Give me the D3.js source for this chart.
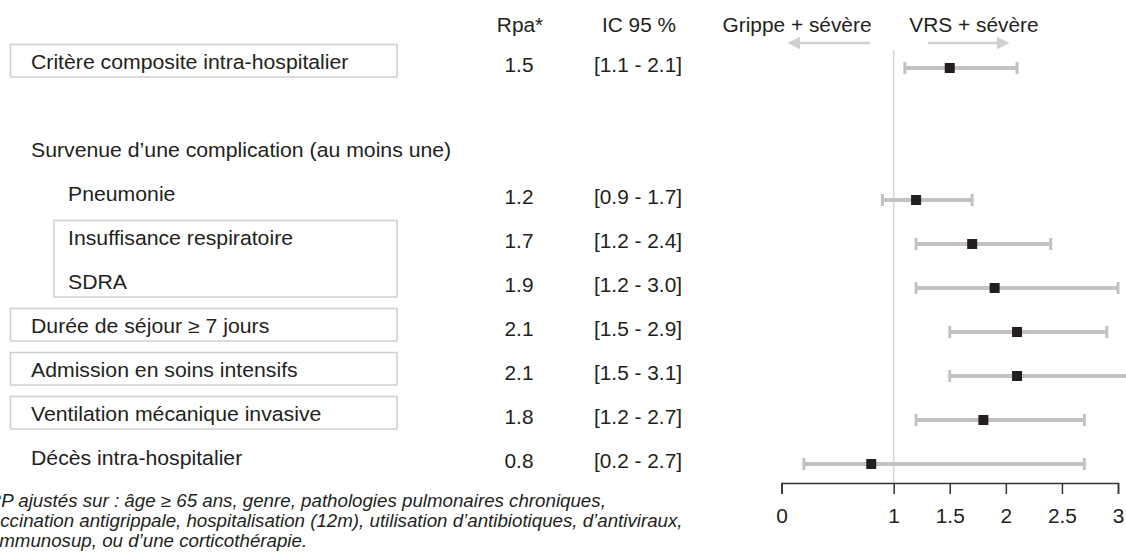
<!DOCTYPE html>
<html lang="fr">
<head>
<meta charset="utf-8">
<script src="https://cdn.jsdelivr.net/npm/d3@7"></script>
<style>
  html, body { margin: 0; padding: 0; background: #fff; overflow: hidden; }
  svg { display: block; font-family: "Liberation Sans", Arial, Helvetica, sans-serif; }
</style>
</head>
<body>
<svg id="chart" width="1126" height="554"></svg>
<script>
// Outcomes (rows), adjusted ratios and 95 % confidence limits
const categories = [
  "Critère composite intra-hospitalier",
  "",
  "Survenue d’une complication (au moins une)",
  "Pneumonie",
  "Insuffisance respiratoire",
  "SDRA",
  "Durée de séjour ≥ 7 jours",
  "Admission en soins intensifs",
  "Ventilation mécanique invasive",
  "Décès intra-hospitalier"
];
const rpa    = [1.5, null, null, 1.2, 1.7, 1.9, 2.1, 2.1, 1.8, 0.8];
const ciLow  = [1.1, null, null, 0.9, 1.2, 1.2, 1.5, 1.5, 1.2, 0.2];
const ciHigh = [2.1, null, null, 1.7, 2.4, 3.0, 2.9, 3.1, 2.7, 2.7];
const xTicks = [0, 1, 1.5, 2, 2.5, 3];
const headers = ["Rpa*", "IC 95 %"];
const directionLabels = ["Grippe + sévère", "VRS + sévère"];
const footnote = [
  "*RP ajustés sur : âge ≥ 65 ans, genre, pathologies pulmonaires chroniques,",
  "vaccination antigrippale, hospitalisation (12m), utilisation d’antibiotiques, d’antiviraux,",
  "d’immunosup, ou d’une corticothérapie."
];

const svg = d3.select("#chart");
const ink = "#231f20";
const light = "#c2c2c2";
const fontSize = 19.5;
const widen = 1.07;       // the typeface is set slightly extended
const widenLabel = 1.09;

// scales
const x = d3.scaleLinear().domain([0, 3]).range([781.5, 1118]);
const y = d3.scalePoint().domain(d3.range(categories.length)).range([62, 458]);
const fmt = d3.format(".1f");

// places a text at (px, py) with the extended setting
function place(sel, px, py, k = widen) {
  return sel
    .attr("x", 0).attr("y", 0)
    .attr("transform", (d, i) => `translate(${px(d, i)},${py(d, i)}) scale(${k},1)`);
}

// label indentation per row and framed groups of rows
const indent = [0, 0, 0, 1, 1, 1, 0, 0, 0, 0];
const frames = [[0, 0], [4, 5], [6, 6], [7, 7], [8, 8]];

// frames around selected labels
svg.append("g").selectAll("rect")
  .data(frames)
  .join("rect")
  .attr("x", d => indent[d[0]] ? 54 : 10.5)
  .attr("y", d => y(d[0]) - 17.5)
  .attr("width", d => indent[d[0]] ? 343 : 386.5)
  .attr("height", d => y(d[1]) - y(d[0]) + 32.5)
  .attr("fill", "none")
  .attr("stroke", "#cfcfcf")
  .attr("stroke-width", 1.5);

// row labels
place(svg.append("g").selectAll("text")
  .data(categories.map((c, i) => ({ c, i })).filter(d => d.c))
  .join("text"),
  d => indent[d.i] ? 68 : 31,
  d => y(d.i) + 6.5, widenLabel)
  .attr("font-size", fontSize)
  .attr("fill", ink)
  .text(d => d.c);

// column headers
const head = svg.append("g").attr("font-size", fontSize).attr("fill", ink).attr("text-anchor", "middle");
const headerX = [520, 639];
const directionX = [797, 974];
place(head.selectAll("text.h").data(headers).join("text").attr("class", "h"),
  (d, i) => headerX[i], () => 32).text(d => d);
place(head.selectAll("text.dir").data(directionLabels).join("text").attr("class", "dir"),
  (d, i) => directionX[i], () => 32).text(d => d);

// direction arrows
const defs = svg.append("defs");
defs.append("marker")
  .attr("id", "arrowhead")
  .attr("viewBox", "0 0 10 10")
  .attr("refX", 8).attr("refY", 5)
  .attr("markerWidth", 5).attr("markerHeight", 5)
  .attr("orient", "auto")
  .append("path").attr("d", "M0,0L10,5L0,10Z").attr("fill", "#d0d0d0");
const arrows = [[870, 790], [928, 1007]];
svg.append("g").selectAll("line")
  .data(arrows)
  .join("line")
  .attr("x1", d => d[0]).attr("x2", d => d[1])
  .attr("y1", 43).attr("y2", 43)
  .attr("stroke", "#d0d0d0")
  .attr("stroke-width", 2.5)
  .attr("marker-end", "url(#arrowhead)");

// value columns
const dataRows = d3.range(categories.length).filter(i => rpa[i] != null);
const vals = svg.append("g").attr("font-size", fontSize).attr("fill", ink).attr("text-anchor", "middle");
place(vals.selectAll("text.rpa").data(dataRows).join("text").attr("class", "rpa"),
  () => 519, i => y(i) + 10)
  .text(i => fmt(rpa[i]));
place(vals.selectAll("text.ci").data(dataRows).join("text").attr("class", "ci"),
  () => 638, i => y(i) + 10)
  .text(i => `[${fmt(ciLow[i])} - ${fmt(ciHigh[i])}]`);

// reference line at 1
svg.append("line")
  .attr("x1", x(1)).attr("x2", x(1))
  .attr("y1", 50).attr("y2", 483)
  .attr("stroke", "#d4d4d4")
  .attr("stroke-width", 1.5);

// confidence intervals
const ci = svg.append("g").attr("stroke", light);
ci.selectAll("line.bar")
  .data(dataRows)
  .join("line").attr("class", "bar")
  .attr("x1", i => x(ciLow[i])).attr("x2", i => x(ciHigh[i]))
  .attr("y1", i => y(i) + 6).attr("y2", i => y(i) + 6)
  .attr("stroke-width", 4);
ci.selectAll("line.capL")
  .data(dataRows)
  .join("line").attr("class", "capL")
  .attr("x1", i => x(ciLow[i])).attr("x2", i => x(ciLow[i]))
  .attr("y1", i => y(i) + 0).attr("y2", i => y(i) + 12)
  .attr("stroke-width", 3);
ci.selectAll("line.capR")
  .data(dataRows)
  .join("line").attr("class", "capR")
  .attr("x1", i => x(ciHigh[i])).attr("x2", i => x(ciHigh[i]))
  .attr("y1", i => y(i) + 0).attr("y2", i => y(i) + 12)
  .attr("stroke-width", 3);

// point estimates
svg.append("g").selectAll("rect")
  .data(dataRows)
  .join("rect")
  .attr("x", i => x(rpa[i]) - 5)
  .attr("y", i => y(i) + 1)
  .attr("width", 10).attr("height", 10)
  .attr("fill", ink);

// x axis
const axis = svg.append("g")
  .attr("transform", "translate(0,483)")
  .call(d3.axisBottom(x).tickValues(xTicks).tickSize(11).tickPadding(12)
    .tickFormat(d => String(d)));
axis.select(".domain").attr("stroke", "#333").attr("stroke-width", 1.5);
axis.selectAll(".tick line").attr("stroke", "#333").attr("stroke-width", 1.5);
axis.selectAll(".tick text")
  .attr("font-size", fontSize)
  .attr("font-family", "\"Liberation Sans\", Arial, Helvetica, sans-serif")
  .attr("fill", ink)
  .attr("y", 0)
  .attr("dy", null)
  .attr("transform", `translate(0,40) scale(${widen},1)`);

// footnote
place(svg.append("g").selectAll("text")
  .data(footnote)
  .join("text"),
  () => -19.5, (d, i) => 507 + i * 20)
  .attr("font-size", 17.5)
  .attr("font-style", "italic")
  .attr("fill", ink)
  .text(d => d);
</script>
</body>
</html>
